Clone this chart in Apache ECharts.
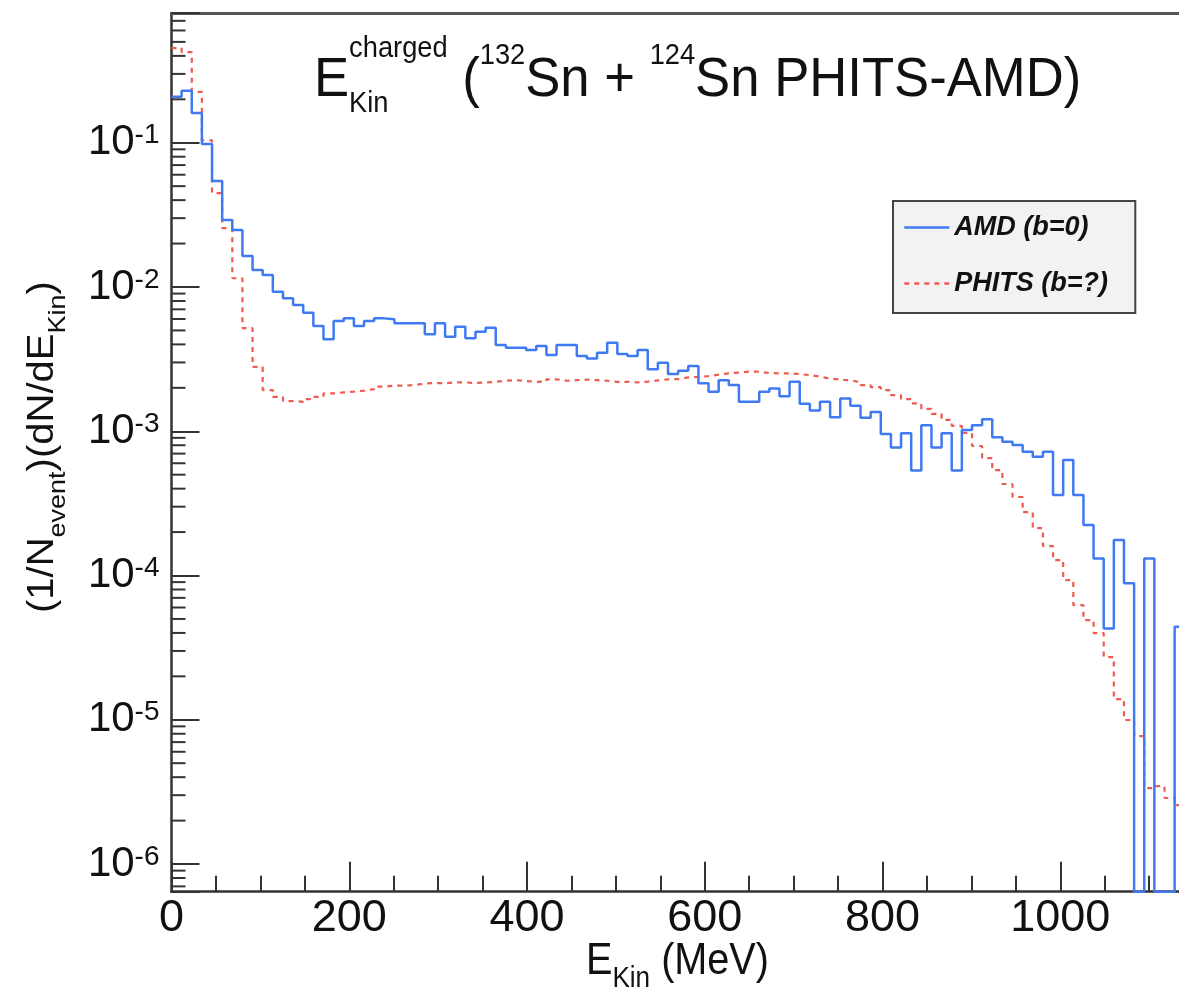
<!DOCTYPE html>
<html>
<head>
<meta charset="utf-8">
<script src="https://cdn.jsdelivr.net/npm/echarts@6/dist/echarts.min.js"></script>
<style>
html, body { margin: 0; padding: 0; background: #fff; }
#chart { width: 1179px; height: 999px; }
</style>
</head>
<body>
<div id="chart"></div>
<script>
// 100 bins of 11.4 MeV, 0 - 1140 MeV
const binWidth = 11.4;
const seriesNames = ['AMD (b=0)', 'PHITS (b=?)'];

const amdValues = [
  0.208, 0.229, 0.161, 0.098, 0.0543, 0.0291, 0.0248, 0.0164, 0.0131, 0.0121,
  0.00927, 0.00834, 0.00750, 0.00663, 0.00536, 0.00434, 0.00581, 0.00606, 0.00536, 0.00581,
  0.00606, 0.00597, 0.00560, 0.00560, 0.00560, 0.00470, 0.00560, 0.00452, 0.00530, 0.00441,
  0.00490, 0.00522, 0.00396, 0.00379, 0.00379, 0.00366, 0.00390, 0.00338, 0.00396, 0.00396,
  0.00332, 0.00320, 0.00350, 0.00411, 0.00343, 0.00332, 0.00366, 0.00269, 0.00299, 0.00249,
  0.00263, 0.00283, 0.00215, 0.00188, 0.00226, 0.00209, 0.00160, 0.00160, 0.00188, 0.00198,
  0.00175, 0.00220, 0.00155, 0.00139, 0.00160, 0.00125, 0.00169, 0.00150, 0.00124, 0.00136,
  0.000957, 0.000771, 0.000968, 0.000534, 0.00110, 0.000771, 0.000968, 0.000534, 0.00102, 0.00110,
  0.00121, 0.000908, 0.000846, 0.000802, 0.000722, 0.000666, 0.000722, 0.000361, 0.000631, 0.000361,
  0.000224, 0.000131, 0.0000430, 0.000176, 0.0000883, 0, 0.000131, 0, 0, 0.0000441
];

const phitsValues = [
  0.453, 0.425, 0.225, 0.104, 0.0448, 0.0256, 0.0115, 0.00519, 0.00279, 0.00193,
  0.00173, 0.00162, 0.00160, 0.00167, 0.00173, 0.00183, 0.00186, 0.00188, 0.00191, 0.00196,
  0.00204, 0.00207, 0.00207, 0.00209, 0.00214, 0.00216, 0.00215, 0.00218, 0.00218, 0.00216,
  0.00218, 0.00220, 0.00224, 0.00226, 0.00223, 0.00220, 0.00221, 0.00229, 0.00224, 0.00226,
  0.00228, 0.00226, 0.00224, 0.00220, 0.00220, 0.00218, 0.00221, 0.00225, 0.00229, 0.00230,
  0.00236, 0.00238, 0.00241, 0.00247, 0.00252, 0.00255, 0.00259, 0.00259, 0.00253, 0.00252,
  0.00252, 0.00249, 0.00245, 0.00239, 0.00232, 0.00228, 0.00225, 0.00219, 0.00209, 0.00202,
  0.00193, 0.00178, 0.00167, 0.00156, 0.00143, 0.00132, 0.00120, 0.00109, 0.000973, 0.000790,
  0.000652, 0.000538, 0.000431, 0.000350, 0.000275, 0.000213, 0.000160, 0.000128, 0.0000930, 0.0000624,
  0.0000491, 0.0000399, 0.0000272, 0.0000139, 0.00000996, 0.00000771, 0.00000336, 0.00000347, 0.00000287, 0.00000256
];

const xMin = 0, xMax = 1200, xInterval = 200;
const xLabelValues = [0, 200, 400, 600, 800, 1000];
const yMin = 6.43e-7, yMax = 0.793;

const FONT = '"Liberation Sans", Arial, Helvetica, sans-serif';
const AXIS = '#333';
const BLUE = '#3f7af2';
const RED = '#ef5b50';

// minor ticks of the log axis: 2..9 x 10^e
const yMinorTicks = [];
for (let e = -7; e <= 0; e++) {
  for (let k = 2; k <= 9; k++) {
    const v = k * Math.pow(10, e);
    if (v > yMin && v < yMax) yMinorTicks.push(v);
  }
}

// histogram -> step points, empty bins drawn on the frame bottom (like ROOT)
function histSteps(values) {
  const pts = values.map((v, i) => [i * binWidth, v > 0 ? v : yMin]);
  const last = values[values.length - 1];
  pts.push([values.length * binWidth, last > 0 ? last : yMin]);
  return pts;
}

// text runs with sub/superscripts, laid out by measured widths
const ctx = document.createElement('canvas').getContext('2d');
function tw(s, size, extra) {
  ctx.font = (extra || '') + size + 'px ' + FONT;
  return ctx.measureText(s).width;
}
function textRun(pieces) {
  let x = 0;
  const out = [];
  pieces.forEach(p => {
    out.push({
      type: 'text', x: x, y: -(p.rise || 0) - 0.32 * p.s,
      style: {
        text: p.t, font: p.s + 'px ' + FONT, fill: '#111',
        align: 'left', verticalAlign: 'middle',
        textAlign: 'left', textVerticalAlign: 'middle'
      }
    });
    x += (p.adv !== undefined) ? p.adv : tw(p.t, p.s);
  });
  return out;
}

const titleSize = 56, titleSup = 29;
const titleRun = textRun([
  { t: 'E', s: titleSize },
  { t: 'charged', s: titleSup, rise: 40, adv: 0 },
  { t: 'Kin', s: titleSup, rise: -15, adv: tw('charged', titleSup) },
  { t: ' (', s: titleSize },
  { t: '132', s: titleSup, rise: 33 },
  { t: 'Sn + ', s: titleSize },
  { t: '124', s: titleSup, rise: 33 },
  { t: 'Sn PHITS-AMD)', s: titleSize }
]);

const xTitleRun = textRun([
  { t: 'E', s: 44 },
  { t: 'Kin', s: 29, rise: -12 },
  { t: ' (MeV)', s: 44 }
]);

const yTitleRun = textRun([
  { t: '(1/N', s: 40 },
  { t: 'event', s: 27, rise: -12 },
  { t: ')(dN/dE', s: 40 },
  { t: 'Kin', s: 27, rise: -12 },
  { t: ')', s: 40 }
]);

// legend box: right edge of the reference box at x ~ 1138
const legendFont = 27;
const legendTextW = Math.max(...seriesNames.map(n => tw(n, legendFont, 'italic bold ')));
const legendPadRight = Math.max(4, 245 - 10 - 45 - 5 - legendTextW - 4);

const chart = echarts.init(document.getElementById('chart'));

const option = {
  animation: false,
  backgroundColor: '#fff',
  grid: {
    left: 171.5, top: 13, width: 1066.6, height: 878.7,
    containLabel: false, outerBoundsMode: 'none'
  },
  legend: {
    data: seriesNames,
    orient: 'vertical',
    left: 893, top: 201,
    itemWidth: 45, itemHeight: 2, itemGap: 29,
    itemStyle: { opacity: 0 },
    lineStyle: { width: 2.6 },
    padding: [13, legendPadRight, 16, 10],
    backgroundColor: '#f2f2f2',
    borderColor: '#444', borderWidth: 2, borderRadius: 0,
    selectedMode: false,
    textStyle: {
      fontFamily: FONT, fontSize: legendFont, fontWeight: 'bold', fontStyle: 'italic',
      color: '#111', lineHeight: 27
    }
  },
  xAxis: [
    {
      type: 'value', min: xMin, max: xMax, interval: xInterval,
      axisLine: { lineStyle: { color: AXIS, width: 2.5 } },
      axisTick: { inside: true, length: 30, lineStyle: { color: AXIS, width: 2 } },
      minorTick: { show: true, splitNumber: 4, length: 16, lineStyle: { color: AXIS, width: 2 } },
      splitLine: { show: false },
      axisLabel: {
        margin: 4, color: '#111', fontFamily: FONT, fontSize: 45,
        formatter: v => xLabelValues.includes(v) ? String(v) : ''
      }
    },
    {
      type: 'value', position: 'top', min: xMin, max: xMax, interval: xInterval,
      axisLine: { show: true, lineStyle: { color: '#555', width: 3 } },
      axisTick: { show: false }, axisLabel: { show: false }, splitLine: { show: false }
    }
  ],
  yAxis: {
    type: 'log', logBase: 10, min: yMin, max: yMax,
    axisLine: { show: true, lineStyle: { color: AXIS, width: 2.5 } },
    axisTick: { show: true, inside: true, length: 28, lineStyle: { color: AXIS, width: 2 } },
    splitLine: { show: false },
    axisLabel: {
      margin: 12, color: '#111', fontFamily: FONT,
      formatter: v => {
        const e = Math.log10(v);
        if (Math.abs(e - Math.round(e)) > 1e-6) return '';
        return '{a|10}{b|' + Math.round(e) + '}';
      },
      rich: {
        a: { fontFamily: FONT, fontSize: 42, lineHeight: 42, color: '#111' },
        b: { fontFamily: FONT, fontSize: 28, lineHeight: 26, verticalAlign: 'top', color: '#111' }
      }
    }
  },
  series: [
    {
      name: seriesNames[1], type: 'line', step: 'end', symbol: 'none',
      data: histSteps(phitsValues),
      lineStyle: { color: RED, width: 2.2, type: [5, 5] },
      itemStyle: { color: RED },
      z: 2
    },
    {
      name: seriesNames[0], type: 'line', step: 'end', symbol: 'none',
      data: histSteps(amdValues),
      lineStyle: { color: BLUE, width: 2.5 },
      itemStyle: { color: BLUE },
      z: 3
    },
    {
      type: 'custom', silent: true, z: 4,
      data: yMinorTicks.map(v => [xMin, v]),
      encode: { x: 0, y: 1 },
      renderItem: (params, api) => {
        const p = api.coord([api.value(0), api.value(1)]);
        return {
          type: 'line',
          shape: { x1: p[0], y1: p[1], x2: p[0] + 14, y2: p[1] },
          style: { stroke: AXIS, lineWidth: 2 }
        };
      }
    }
  ],
  graphic: [
    { type: 'group', x: 314, y: 98, scaleX: 0.94, children: titleRun },
    { type: 'group', x: 586, y: 976, scaleX: 0.9, children: xTitleRun },
    { type: 'group', x: 55, y: 613, rotation: Math.PI / 2, scaleY: 0.9, children: yTitleRun }
  ]
};

chart.setOption(option);
</script>
</body>
</html>
